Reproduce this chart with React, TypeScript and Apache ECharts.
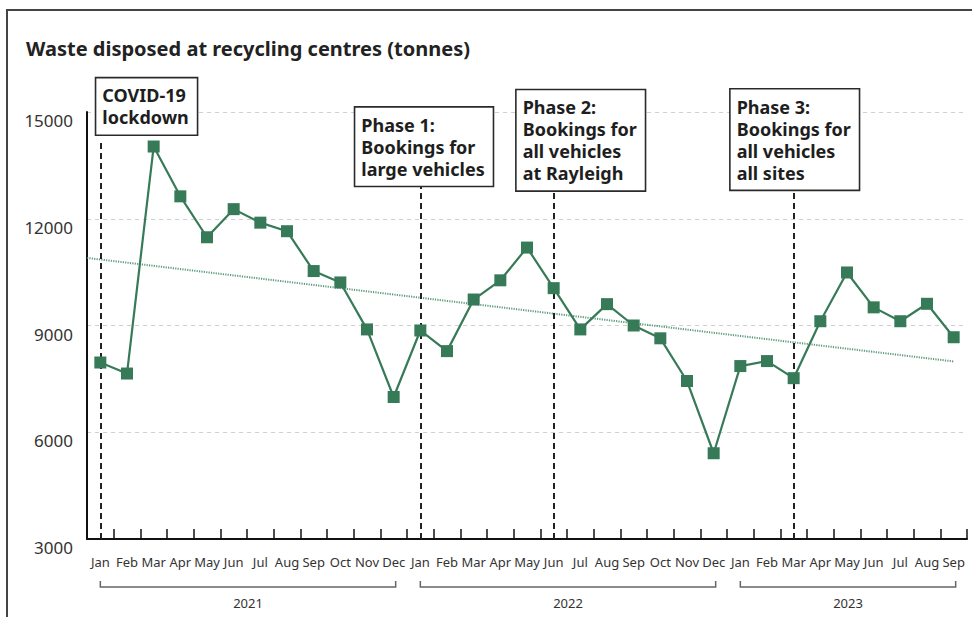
import React, { useEffect, useRef } from "react";
import * as echarts from "echarts";

const categories = [
  "Jan", "Feb", "Mar", "Apr", "May", "Jun", "Jul", "Aug", "Sep", "Oct", "Nov", "Dec",
  "Jan", "Feb", "Mar", "Apr", "May", "Jun", "Jul", "Aug", "Sep", "Oct", "Nov", "Dec",
  "Jan", "Feb", "Mar", "Apr", "May", "Jun", "Jul", "Aug", "Sep",
];

const waste = [
  7960, 7650, 14030, 12630, 11480, 12270, 11890, 11650, 10530, 10210, 8890, 6990,
  8860, 8280, 9730, 10270, 11190, 10050, 8890, 9600, 9000, 8640, 7440, 5410,
  7860, 8000, 7520, 9120, 10490, 9510, 9120, 9610, 8670,
];

// trend line: [category index, value]
const trendX = [-0.5, 32];
const trendY = [10900, 7990];

const yTicks = [3000, 6000, 9000, 12000, 15000];

const years = ["2021", "2022", "2023"];
const yearStart = [0, 12, 24];
const yearEnd = [11, 23, 32];

const eventIdx = [0, 12, 17, 26];
const eventTop = [14200, 12930, 12800, 12820];
const eventText = [
  "COVID-19\nlockdown",
  "Phase 1:\nBookings for\nlarge vehicles",
  "Phase 2:\nBookings for\nall vehicles\nat Rayleigh",
  "Phase 3:\nBookings for\nall vehicles\nall sites",
];

// layout (pixels)
const boxDx = [-4, -65, -37, -63];
const boxGap = [6, 0, 0, 0];

const FONT = "Noto Sans";
const GREEN = "#377a58";

export default function App() {
  const ref = useRef<HTMLDivElement>(null);
  useEffect(() => {
    if (!ref.current) return;
    const chart = echarts.init(ref.current, null, { renderer: "svg" });
    const option: any = {
      animation: false,
      backgroundColor: "#fff",
      textStyle: { fontFamily: FONT },
      title: {
        text: "Waste disposed at recycling centres (tonnes)",
        left: 21,
        top: 33,
        textStyle: { fontFamily: FONT, fontSize: 20, fontWeight: "bold", color: "#222" },
      },
      grid: { left: 87, right: 5, top: 112, bottom: 78, containLabel: false },
      xAxis: [
        {
          type: "category",
          data: categories,
          boundaryGap: true,
          axisLine: { show: true, lineStyle: { color: "#111", width: 2 } },
          axisTick: { show: true, inside: true, length: 10, lineStyle: { color: "#111", width: 1.5 }, interval: 0 },
          axisLabel: { interval: 0, fontSize: 13, color: "#333", margin: 16, fontFamily: FONT },
          splitLine: { show: false },
        },
        {
          type: "value",
          min: -0.5,
          max: 32.5,
          show: false,
        },
      ],
      yAxis: {
        type: "value",
        min: yTicks[0],
        max: yTicks[yTicks.length - 1],
        interval: 3000,
        axisLine: { show: true, onZero: false, lineStyle: { color: "#111", width: 2 } },
        axisTick: { show: false },
        axisLabel: {
          fontSize: 17,
          color: "#333",
          margin: 14,
          verticalAlign: "top",
          fontFamily: FONT,
          formatter: (v: number) => String(v),
        },
        splitLine: { show: true, lineStyle: { color: "#d0d0d0", type: [4, 4], width: 1 } },
      },
      series: [
        {
          type: "line",
          name: "trend",
          xAxisIndex: 1,
          data: trendX.map((x, i) => [x, trendY[i]]),
          symbol: "none",
          lineStyle: { color: "#3f8a63", width: 2, type: [1.2, 1.2], opacity: 0.85 },
          silent: true,
          z: 1,
        },
        {
          type: "line",
          name: "Waste",
          data: waste,
          symbol: "rect",
          symbolSize: 12,
          itemStyle: { color: GREEN },
          lineStyle: { color: GREEN, width: 2.2 },
          z: 3,
          markLine: {
            silent: true,
            symbol: ["none", "none"],
            label: { show: false },
            lineStyle: { color: "#222", width: 2, type: [6, 4] },
            data: eventIdx.map((i, k) => [
              { coord: [i, yTicks[0]] },
              { coord: [i, eventTop[k]] },
            ]),
            z: 2,
          },
        },
      ],
    };
    chart.setOption(option);

    const px = (i: number, v: number) =>
      chart.convertToPixel({ xAxisIndex: 0, yAxisIndex: 0 }, [i, v]) as number[];
    const axisY = px(0, yTicks[0])[1];

    const graphic: any[] = [
      {
        type: "rect",
        silent: true,
        shape: { x: 7, y: 10, width: 1200, height: 900 },
        style: { fill: "none", stroke: "#444", lineWidth: 2 },
        z: 0,
      },
    ];
    eventIdx.forEach((i, k) => {
      const [x, y] = px(i, eventTop[k]);
      graphic.push({
        type: "text",
        x: x + boxDx[k],
        y: y - boxGap[k],
        z: 100,
        style: {
          text: eventText[k],
          fontFamily: FONT,
          fontSize: 18,
          fontWeight: "bold",
          fill: "#1e1e1e",
          lineHeight: 22,
          align: "left",
          verticalAlign: "bottom",
          backgroundColor: "#fff",
          borderColor: "#2a2a2a",
          borderWidth: 1.6,
          padding: [6, 8, 6, 6],
        },
      });
    });
    years.forEach((label, k) => {
      const x1 = px(yearStart[k], yTicks[0])[0];
      const x2 = px(yearEnd[k], yTicks[0])[0] + 2;
      graphic.push({
        type: "polyline",
        silent: true,
        shape: {
          points: [
            [x1, axisY + 42],
            [x1, axisY + 48],
            [x2, axisY + 48],
            [x2, axisY + 42],
          ],
        },
        style: { stroke: "#666", lineWidth: 1.5, fill: "none" },
      });
      graphic.push({
        type: "text",
        silent: true,
        x: (x1 + x2) / 2,
        y: axisY + 64,
        style: {
          text: label,
          fontFamily: FONT,
          fontSize: 13,
          fill: "#333",
          align: "center",
          verticalAlign: "middle",
        },
      });
    });
    chart.setOption({ graphic });

    return () => chart.dispose();
  }, []);
  return (
    <div
      ref={ref}
      style={{ position: "fixed", left: 0, top: 0, width: 972, height: 617, background: "#fff" }}
    />
  );
}
